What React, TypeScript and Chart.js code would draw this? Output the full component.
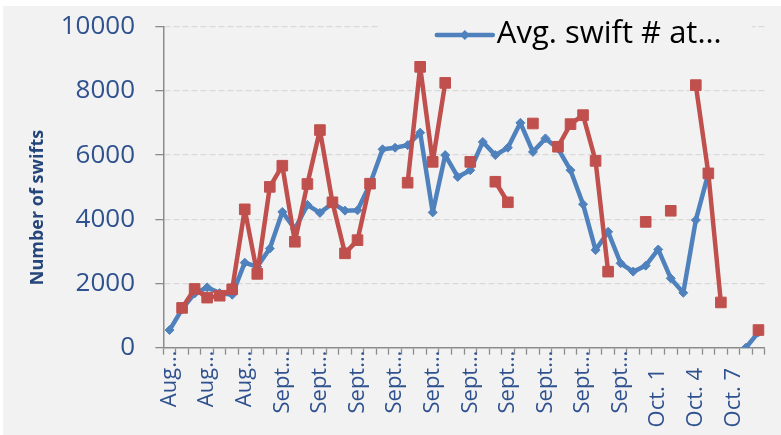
import { useEffect, useRef } from "react";
import { Chart, registerables } from "chart.js";

Chart.register(...registerables);

// ---- data ----
const CATEGORIES = [
  "Aug. 23", "Aug. 24", "Aug. 25", "Aug. 26", "Aug. 27", "Aug. 28", "Aug. 29", "Aug. 30", "Aug. 31",
  "Sept. 1", "Sept. 2", "Sept. 3", "Sept. 4", "Sept. 5", "Sept. 6", "Sept. 7", "Sept. 8", "Sept. 9",
  "Sept. 10", "Sept. 11", "Sept. 12", "Sept. 13", "Sept. 14", "Sept. 15", "Sept. 16", "Sept. 17",
  "Sept. 18", "Sept. 19", "Sept. 20", "Sept. 21", "Sept. 22", "Sept. 23", "Sept. 24", "Sept. 25",
  "Sept. 26", "Sept. 27", "Sept. 28", "Sept. 29", "Sept. 30",
  "Oct. 1", "Oct. 2", "Oct. 3", "Oct. 4", "Oct. 5", "Oct. 6", "Oct. 7", "Oct. 8", "Oct. 9",
];

const X_TICK_LABELS = [
  "Aug…", "Aug…", "Aug…",
  "Sept…", "Sept…", "Sept…", "Sept…", "Sept…", "Sept…", "Sept…", "Sept…", "Sept…", "Sept…",
  "Oct. 1", "Oct. 4", "Oct. 7",
];

const AVG_SWIFTS: (number | null)[] = [
  550, 1200, 1690, 1880, 1700, 1650, 2650, 2520, 3090, 4230,
  3700, 4450, 4200, 4500, 4270, 4280, 5100, 6180, 6230, 6310,
  6700, 4215, 6000, 5320, 5530, 6410, 6000, 6230, 7005, 6100,
  6520, 6205, 5530, 4470, 3040, 3610, 2630, 2370, 2555, 3060,
  2160, 1710, 3975, 5430, null, null, 0, 480,
];

const SWIFT_COUNT: (number | null)[] = [
  null, 1240, 1830, 1560, 1620, 1820, 4310, 2300, 5010, 5670,
  3300, 5100, 6780, 4530, 2940, 3350, 5110, null, null, 5140,
  8750, 5790, 8250, null, 5790, null, 5170, 4530, null, 6985,
  null, 6260, 6965, 7245, 5820, 2370, null, null, 3920, null,
  4265, null, 8180, 5430, 1410, null, null, 550,
];

const Y_MIN = 0;
const Y_MAX = 10000;
const Y_STEP = 2000;

const SERIES_AVG = "Avg. swift # at…";
const SERIES_COUNT = "Swift count";
const Y_TITLE = "Number of swifts";

// ---- styles ----
const BG = "#f2f2f2";
const BLUE = "#4F81BD";
const RED = "#C0504D";
const TICK_BLUE = "#2F528F";
const TITLE_BLUE = "#24467A";
const AXIS_GRAY = "#8c8c8c";
const GRID_GRAY = "#d9d9d9";
const FONT = '"Open Sans", "DejaVu Sans", sans-serif';

const overlayPlugin = {
  id: "overlay",
  beforeDatasetsDraw(chart: any) {
    const ctx: CanvasRenderingContext2D = chart.ctx;
    const area = chart.chartArea;
    ctx.save();
    // legend background box
    const boxLeft = area.left + 217;
    const boxRight = area.right - 13;
    ctx.fillStyle = BG;
    ctx.fillRect(boxLeft, area.top - 17, boxRight - boxLeft, 46);
    // legend sample line with diamond
    const ly = area.top + 8.3;
    const lx0 = area.left + 273.5;
    const lx1 = lx0 + 56;
    ctx.strokeStyle = BLUE;
    ctx.lineWidth = 4.5;
    ctx.lineCap = "round";
    ctx.beginPath();
    ctx.moveTo(lx0, ly);
    ctx.lineTo(lx1, ly);
    ctx.stroke();
    const cx = (lx0 + lx1) / 2;
    const d = 5;
    ctx.fillStyle = BLUE;
    ctx.beginPath();
    ctx.moveTo(cx, ly - d);
    ctx.lineTo(cx + d, ly);
    ctx.lineTo(cx, ly + d);
    ctx.lineTo(cx - d, ly);
    ctx.closePath();
    ctx.fill();
    // legend text
    ctx.fillStyle = "#000000";
    ctx.font = `31px ${FONT}`;
    ctx.textAlign = "left";
    ctx.textBaseline = "alphabetic";
    ctx.fillText(SERIES_AVG, lx1 + 4, area.top + 16);
    // y axis title
    ctx.translate(35, area.top + 180.8);
    ctx.rotate(-Math.PI / 2);
    ctx.textAlign = "center";
    ctx.textBaseline = "middle";
    ctx.font = `bold 18px ${FONT}`;
    ctx.fillStyle = TITLE_BLUE;
    ctx.fillText(Y_TITLE, 0, 0);
    ctx.restore();
  },
};

function SwiftChart() {
  const canvasRef = useRef<HTMLCanvasElement | null>(null);

  useEffect(() => {
    const canvas = canvasRef.current;
    if (!canvas) return;
    const chart = new Chart(canvas, {
      type: "line",
      data: {
        labels: CATEGORIES,
        datasets: [
          {
            label: SERIES_AVG,
            data: AVG_SWIFTS,
            borderColor: BLUE,
            backgroundColor: BLUE,
            borderWidth: 4.5,
            pointStyle: "rectRot",
            pointRadius: 4.5,
            pointBorderWidth: 1,
            pointBackgroundColor: BLUE,
            pointBorderColor: BLUE,
            tension: 0,
            spanGaps: false,
            borderJoinStyle: "round",
            order: 2,
          },
          {
            label: SERIES_COUNT,
            data: SWIFT_COUNT,
            borderColor: RED,
            backgroundColor: RED,
            borderWidth: 4.5,
            pointStyle: "rect",
            pointRadius: 7.5,
            pointBorderWidth: 1,
            pointBackgroundColor: RED,
            pointBorderColor: RED,
            tension: 0,
            spanGaps: false,
            borderJoinStyle: "round",
            order: 1,
          },
        ],
      },
      options: {
        responsive: false,
        animation: false,
        events: [],
        layout: { padding: { top: 20.7, right: 13.3, left: 0, bottom: 0 } },
        plugins: {
          legend: { display: false },
          title: { display: false },
          tooltip: { enabled: false },
        },
        scales: {
          x: {
            type: "category",
            offset: true,
            grid: {
              offset: true,
              drawOnChartArea: false,
              drawTicks: true,
              tickLength: 7,
              tickColor: AXIS_GRAY,
              tickWidth: 1.3,
            },
            border: { display: true, color: AXIS_GRAY, width: 1.5 },
            ticks: {
              autoSkip: false,
              minRotation: 90,
              maxRotation: 90,
              padding: -4,
              color: TICK_BLUE,
              font: { family: FONT, size: 22 },
              callback: (_v: any, i: number) => {
                if (i % 3 !== 0) return "";
                const t = X_TICK_LABELS[i / 3];
                return t.startsWith("Oct") ? t + "\u00a0\u00a0\u00a0" : t;
              },
            },
            afterFit: (s: any) => {
              s.height = 87.3;
            },
          },
          y: {
            min: Y_MIN,
            max: Y_MAX,
            grid: {
              color: (c: any) => (c.tick && c.tick.value === 0 ? "rgba(0,0,0,0)" : GRID_GRAY),
              lineWidth: 1.3,
              drawTicks: true,
              tickLength: 8,
              tickColor: AXIS_GRAY,
              tickWidth: 1.3,
              tickBorderDash: [],
            },
            border: { display: true, color: AXIS_GRAY, width: 1.5, dash: [6, 3] },
            ticks: {
              stepSize: Y_STEP,
              padding: 20.3,
              color: TICK_BLUE,
              font: { family: FONT, size: 26 },
              callback: (v: any) => String(v),
            },
            afterFit: (s: any) => {
              s.width = 160.3;
              s.paddingTop = 0;
              s.paddingBottom = 0;
            },
          },
        },
      },
      plugins: [overlayPlugin],
    });
    return () => chart.destroy();
  }, []);

  return <canvas ref={canvasRef} width={778} height={429} style={{ display: "block" }} />;
}

export default function App() {
  return (
    <div
      style={{
        position: "absolute",
        left: 3,
        top: 6,
        width: 778,
        height: 429,
        background: BG,
        overflow: "hidden",
      }}
    >
      <SwiftChart />
    </div>
  );
}
